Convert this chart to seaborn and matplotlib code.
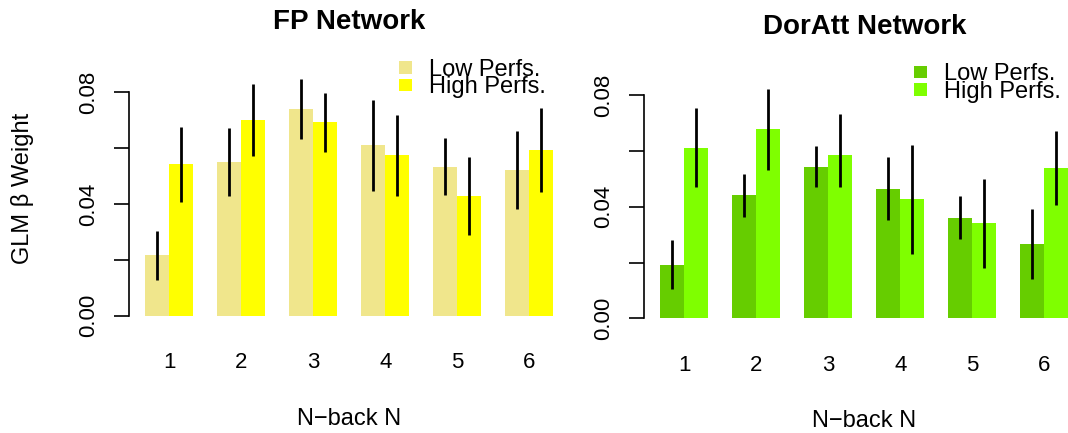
import numpy as np
import pandas as pd
import matplotlib
matplotlib.use("Agg")
import matplotlib.pyplot as plt
import seaborn as sns
from matplotlib.patches import Patch

plt.rcParams['font.family'] = ['Liberation Sans', 'DejaVu Sans']

# ---------------- data ----------------
nback = ["1", "2", "3", "4", "5", "6"]
groups = ["Low Perfs.", "High Perfs."]

fp_low = [0.0217, 0.0550, 0.0740, 0.0611, 0.0532, 0.0521]
fp_low_lo = [0.0127, 0.0427, 0.0633, 0.0445, 0.0432, 0.0383]
fp_low_hi = [0.0305, 0.0671, 0.0849, 0.0774, 0.0636, 0.0663]
fp_high = [0.0543, 0.0701, 0.0694, 0.0575, 0.0428, 0.0593]
fp_high_lo = [0.0408, 0.0572, 0.0587, 0.0427, 0.0289, 0.0443]
fp_high_hi = [0.0675, 0.0831, 0.0797, 0.0719, 0.0567, 0.0744]

da_low = [0.0192, 0.0443, 0.0544, 0.0465, 0.0361, 0.0268]
da_low_lo = [0.0106, 0.0365, 0.0471, 0.0354, 0.0285, 0.0141]
da_low_hi = [0.0280, 0.0519, 0.0617, 0.0578, 0.0437, 0.0392]
da_high = [0.0611, 0.0680, 0.0587, 0.0429, 0.0340, 0.0540]
da_high_lo = [0.0472, 0.0533, 0.0471, 0.0232, 0.0181, 0.0405]
da_high_hi = [0.0753, 0.0824, 0.0733, 0.0623, 0.0501, 0.0673]

fp_colors = ["#F0E68C", "#FFFF00"]
da_colors = ["#66CD00", "#7FFF00"]

yticks = [0.0, 0.02, 0.04, 0.06, 0.08]
ytick_labels = ["0.00", "", "0.04", "", "0.08"]

W, H = 1068, 433
fig = plt.figure(figsize=(W / 100, H / 100), dpi=100)


def make_panel(rect_px, ylim, title, low, low_lo, low_hi, high, high_lo, high_hi,
               colors, ylabel=None):
    x0, y_top, w, h = rect_px
    ax = fig.add_axes([x0 / W, (H - y_top - h) / H, w / W, h / H])
    df = pd.DataFrame({
        "N": nback * 2,
        "grp": [groups[0]] * 6 + [groups[1]] * 6,
        "val": list(low) + list(high),
    })
    sns.barplot(data=df, x="N", y="val", hue="grp", order=nback, hue_order=groups,
                palette=colors, width=2 / 3, saturation=1, errorbar=None,
                linewidth=0, legend=False, ax=ax)
    los = [low_lo, high_lo]
    his = [low_hi, high_hi]
    for k, cont in enumerate(ax.containers):
        xs = [b.get_x() + b.get_width() / 2 for b in cont.patches]
        ax.vlines(xs, los[k], his[k], colors="black", linewidth=2.0, zorder=5)

    ax.set_xlim(-0.56, 5.56)
    ax.set_ylim(*ylim)
    for s in ["top", "right", "bottom"]:
        ax.spines[s].set_visible(False)
    ax.spines["left"].set_bounds(0, 0.08)
    ax.spines["left"].set_linewidth(1.2)
    ax.set_yticks(yticks)
    ax.set_yticklabels(ytick_labels)
    ax.tick_params(axis="y", length=10.8, width=1.2, pad=11, labelsize=16,
                   labelrotation=90)
    for lab in ax.get_yticklabels():
        lab.set_verticalalignment("center")
    ax.tick_params(axis="x", length=0, pad=19, labelsize=16)

    ax.set_title(title, fontsize=20, fontweight="bold", pad=15)
    ax.set_xlabel("N\u2212back N", fontsize=17)
    ax.xaxis.set_label_coords(0.5, -93.0 / h)
    ax.xaxis.label.set_verticalalignment("center")
    if ylabel:
        ax.set_ylabel(ylabel, fontsize=17)
        ax.yaxis.set_label_coords(-(129 - 23) / w, 0.5)
        ax.yaxis.label.set_verticalalignment("center")
    else:
        ax.set_ylabel("")

    handles = [Patch(facecolor=c, edgecolor="none") for c in colors]
    ax.legend(handles, groups, loc="upper left",
              bbox_to_anchor=(270 / w, 1 - 9.0 / h), frameon=False,
              fontsize=17, handlelength=0.55, handleheight=0.45,
              handletextpad=0.7, labelspacing=-0.2, borderpad=0,
              borderaxespad=0)
    return ax


make_panel((129, 50, 440.6, 275.9), (-0.00366, 0.09516), "FP Network",
           fp_low, fp_low_lo, fp_low_hi, fp_high, fp_high_lo, fp_high_hi,
           fp_colors, ylabel="GLM \u03b2 Weight")
make_panel((644, 54.5, 440.6, 273.9), (-0.00364, 0.09464), "DorAtt Network",
           da_low, da_low_lo, da_low_hi, da_high, da_high_lo, da_high_hi,
           da_colors)

fig.savefig("out.png", dpi=100)
